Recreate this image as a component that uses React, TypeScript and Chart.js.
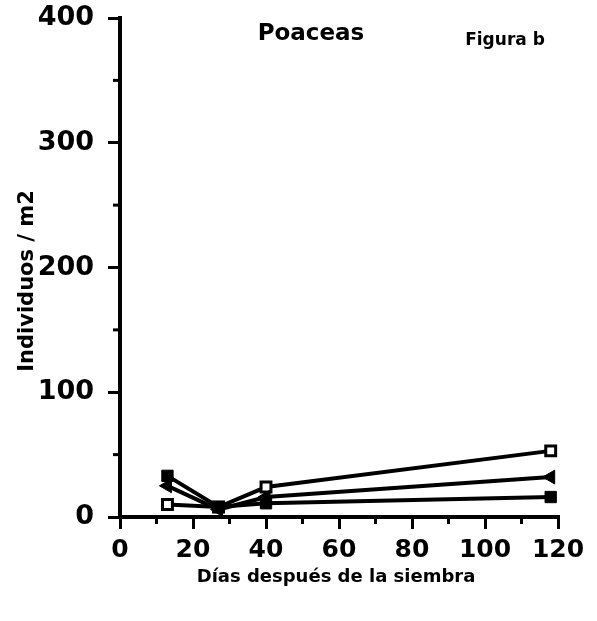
import React, { useEffect, useRef } from "react";
import { Chart, registerables } from "chart.js";

Chart.register(...registerables);

const days = [13, 27, 40, 118];
const openSquare = [10, 8, 24, 53];
const triangleSeries = [25, 6, 16, 32];
const filledSquare = [33, 8, 11, 16];

const chartTitle = "Poaceas";
const figureLabel = "Figura b";
const xTitle = "Días después de la siembra";
const yTitle = "Individuos / m2";
const xMinorTicks = [10, 30, 50, 70, 90, 110];
const yMinorTicks = [50, 150, 250, 350];

const FONT = "'DejaVu Sans', 'Liberation Sans', Arial, sans-serif";

const textPlugin = {
  id: "textPlugin",
  afterDraw(chart: any) {
    const ctx = chart.ctx;
    const xs = chart.scales.x;
    const ys = chart.scales.y;
    const area = chart.chartArea;
    ctx.save();
    ctx.strokeStyle = "#000";
    ctx.lineWidth = 3;
    xMinorTicks.forEach((v) => {
      const px = xs.getPixelForValue(v);
      ctx.beginPath();
      ctx.moveTo(px, area.bottom);
      ctx.lineTo(px, area.bottom + 7);
      ctx.stroke();
    });
    yMinorTicks.forEach((v) => {
      const py = ys.getPixelForValue(v);
      ctx.beginPath();
      ctx.moveTo(area.left, py);
      ctx.lineTo(area.left - 7, py);
      ctx.stroke();
    });
    ctx.fillStyle = "#000";
    ctx.textAlign = "center";
    ctx.textBaseline = "middle";
    ctx.font = `bold 23px ${FONT}`;
    ctx.fillText(chartTitle, 311, 34);
    ctx.font = `bold 17px ${FONT}`;
    ctx.fillText(figureLabel, 505, 41);
    ctx.font = `bold 18px ${FONT}`;
    ctx.fillText(xTitle, 336, 577);
    ctx.save();
    ctx.translate(28, 281);
    ctx.rotate(-Math.PI / 2);
    ctx.font = `bold 21px ${FONT}`;
    ctx.fillText(yTitle, 0, 0);
    ctx.restore();
    ctx.restore();
  },
};

export default function App() {
  const ref = useRef<HTMLCanvasElement>(null);
  useEffect(() => {
    if (!ref.current) return;
    const chart = new Chart(ref.current, {
      type: "line",
      data: {
        datasets: [
          {
            label: "filled",
            data: days.map((d, i) => ({ x: d, y: filledSquare[i] })),
            borderColor: "#000",
            backgroundColor: "#000",
            borderWidth: 4,
            pointStyle: "rect",
            pointRadius: 8,
            pointBorderWidth: 1,
          },
          {
            label: "triangle",
            data: days.map((d, i) => ({ x: d, y: triangleSeries[i] })),
            borderColor: "#000",
            backgroundColor: "#000",
            borderWidth: 4,
            pointStyle: "triangle",
            rotation: -90,
            pointRadius: 8,
            pointBorderWidth: 1,
          },
          {
            label: "open",
            data: days.map((d, i) => ({ x: d, y: openSquare[i] })),
            borderColor: "#000",
            backgroundColor: "#fff",
            borderWidth: 4,
            pointStyle: "rect",
            pointRadius: 7,
            pointBorderWidth: 3,
          },
        ],
      },
      options: {
        responsive: false,
        animation: false,
        layout: { padding: { top: 18, right: 39, left: 0, bottom: 0 } },
        plugins: { legend: { display: false }, tooltip: { enabled: false }, title: { display: false } },
        scales: {
          x: {
            type: "linear",
            min: 0,
            max: 120,
            afterFit: (s: any) => {
              s.height = 104;
              s.paddingRight = 0;
              s.paddingLeft = 0;
            },
            ticks: {
              stepSize: 20,
              color: "#000",
              padding: 6,
              font: { family: FONT, size: 25, weight: "bold" },
            },
            grid: { drawOnChartArea: false, drawTicks: true, tickLength: 12, color: "#000", lineWidth: 3 },
            border: { display: true, color: "#000", width: 4 },
          },
          y: {
            min: 0,
            max: 400,
            afterFit: (s: any) => {
              s.width = 120;
              s.paddingTop = 0;
              s.paddingBottom = 0;
            },
            ticks: {
              stepSize: 100,
              color: "#000",
              padding: 14,
              font: { family: FONT, size: 27, weight: "bold" },
            },
            grid: { drawOnChartArea: false, drawTicks: true, tickLength: 12, color: "#000", lineWidth: 3 },
            border: { display: true, color: "#000", width: 4 },
          },
        },
      },
      plugins: [textPlugin],
    });
    return () => chart.destroy();
  }, []);
  return (
    <div style={{ position: "absolute", left: 0, top: 0, width: 597, height: 621, background: "#fff" }}>
      <canvas ref={ref} width={597} height={621} />
    </div>
  );
}
